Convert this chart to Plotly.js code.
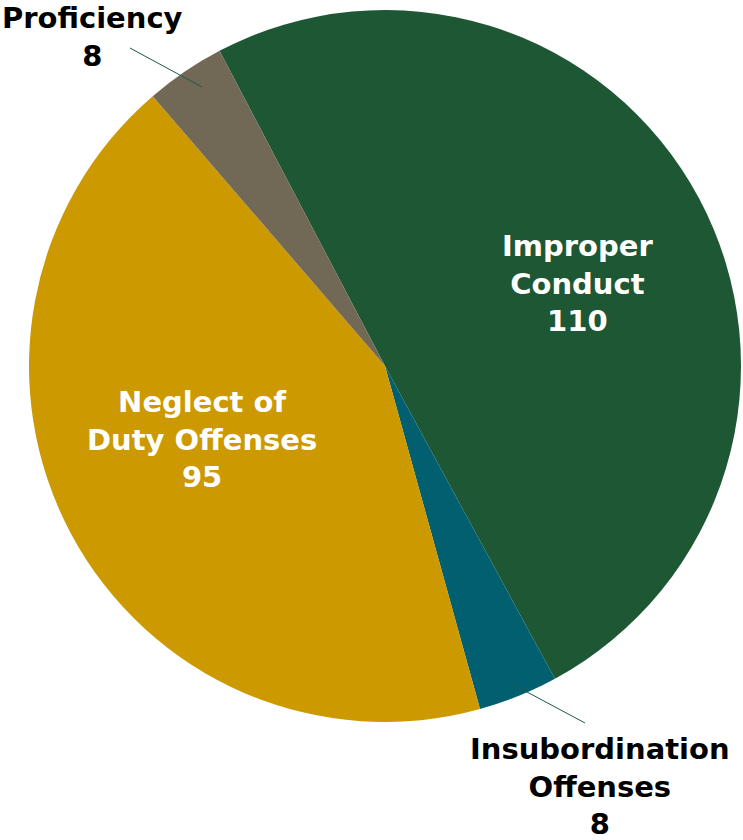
<!DOCTYPE html>
<html>
<head>
<meta charset="utf-8">
<script src="https://cdn.plot.ly/plotly-3.0.1.min.js"></script>
<style>html,body{margin:0;padding:0;background:#fff;}#chart{width:743px;height:840px;}</style>
</head>
<body>
<div id="chart"></div>
<script>
var categories = ["Improper<br>Conduct", "Insubordination<br>Offenses", "Neglect of<br>Duty Offenses", "Proficiency"];
var values = [110, 8, 95, 8];
var colors = ["#1d5734", "#015f70", "#cc9900", "#716856"];

var W = 743, H = 840;
var cx = 385, cy = 366, R = 356;

var trace = {
  type: "pie",
  labels: categories,
  values: values,
  sort: false,
  direction: "clockwise",
  rotation: -27.7,
  marker: {colors: colors, line: {width: 0}},
  textinfo: "none",
  hoverinfo: "label+value",
  showlegend: false,
  domain: {x: [(cx - R) / W, (cx + R) / W], y: [(H - cy - R) / H, (H - cy + R) / H]}
};

var labelFont = {family: "'DejaVu Sans', sans-serif", size: 29, color: "#ffffff", weight: "bold"};
var outFont = {family: "'DejaVu Sans', sans-serif", size: 29, color: "#000000", weight: "bold"};

var labelPos = [[577, 283, true], [600, 786, false], [202, 439, true], [92, 37, false]];
var annotations = categories.map(function (c, i) {
  var p = labelPos[i];
  return {
    xref: "paper", yref: "paper",
    x: p[0] / W, y: 1 - p[1] / H,
    xanchor: "center", yanchor: "middle",
    text: c + "<br>" + values[i],
    showarrow: false,
    align: "center",
    font: p[2] ? labelFont : outFont
  };
});

var lineColor = "#1a5a4c";
var shapes = [
  {type: "line", xref: "paper", yref: "paper", x0: 130 / W, y0: 1 - 48 / H, x1: 202 / W, y1: 1 - 87 / H, line: {color: lineColor, width: 1}},
  {type: "line", xref: "paper", yref: "paper", x0: 514 / W, y0: 1 - 685 / H, x1: 585 / W, y1: 1 - 723 / H, line: {color: lineColor, width: 1}}
];

var layout = {
  width: W, height: H,
  margin: {l: 0, r: 0, t: 0, b: 0},
  paper_bgcolor: "#ffffff",
  annotations: annotations,
  shapes: shapes
};

Plotly.newPlot("chart", [trace], layout, {displayModeBar: false, staticPlot: true});
</script>
</body>
</html>
